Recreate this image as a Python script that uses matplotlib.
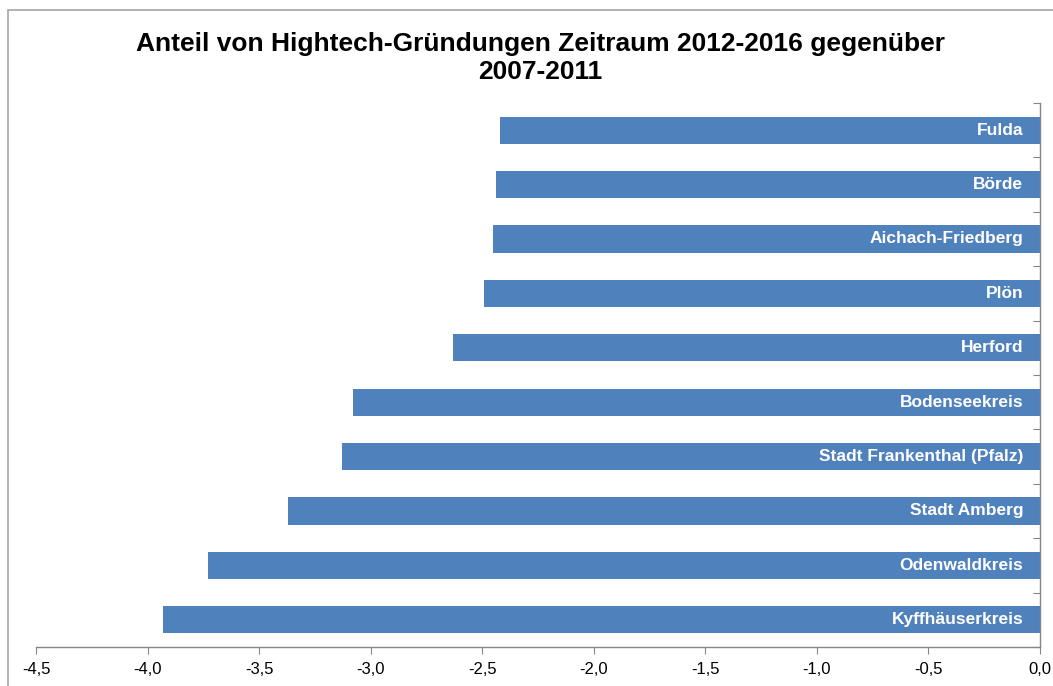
import matplotlib
matplotlib.use("Agg")
import matplotlib.pyplot as plt
from matplotlib.patches import Rectangle
from matplotlib.ticker import FixedLocator, FuncFormatter

plt.rcParams['font.family'] = ['Liberation Sans', 'DejaVu Sans']

categories = ["Fulda", "Börde", "Aichach-Friedberg", "Plön", "Herford",
              "Bodenseekreis", "Stadt Frankenthal (Pfalz)", "Stadt Amberg",
              "Odenwaldkreis", "Kyffhäuserkreis"]
values = [-2.42, -2.44, -2.45, -2.49, -2.63, -3.08, -3.13, -3.37, -3.73, -3.93]
xticks = [-4.5, -4.0, -3.5, -3.0, -2.5, -2.0, -1.5, -1.0, -0.5, 0.0]
title = "Anteil von Hightech-Gründungen Zeitraum 2012-2016 gegenüber\n2007-2011"

W, H = 1053, 686
fig = plt.figure(figsize=(W / 100, H / 100), dpi=100)
fig.patches.append(Rectangle((8 / W, -0.1), 1.2, (H - 10) / H + 0.1,
                             transform=fig.transFigure, fill=False,
                             edgecolor='#a6a6a6', linewidth=1.2))

ax = fig.add_axes([36 / W, 1 - 647 / H, (1040 - 36) / W, (647 - 103) / H])
n = len(categories)
ypos = list(range(n - 1, -1, -1))
color = '#4f81bd'
ax.barh(ypos, values, height=0.5, color=color)
for y, v, c in zip(ypos, values, categories):
    ax.text(-0.075, y, c, ha='right', va='center', color='white',
            fontsize=12.5, fontweight='bold')

ax.set_xlim(-4.5, 0)
ax.set_ylim(-0.5, n - 0.5)
ax.xaxis.set_major_locator(FixedLocator(xticks))
ax.xaxis.set_major_formatter(FuncFormatter(lambda x, p: f"{x:.1f}".replace('.', ',')))
ax.tick_params(axis='x', direction='out', length=5, color='#868686',
               labelsize=12, pad=6)
ax.yaxis.tick_right()
ax.yaxis.set_major_locator(FixedLocator([i - 0.5 for i in range(n + 1)]))
ax.tick_params(axis='y', direction='in', length=5, color='#868686',
               labelright=False, labelleft=False)
for s in ['top', 'left']:
    ax.spines[s].set_visible(False)
for s in ['bottom', 'right']:
    ax.spines[s].set_color('#868686')
    ax.spines[s].set_linewidth(1.0)

fig.text(540 / W, 1 - 58 / H, title, ha='center', va='center',
         fontsize=19, fontweight='bold', linespacing=1.25)

fig.savefig("out.png", dpi=100)
